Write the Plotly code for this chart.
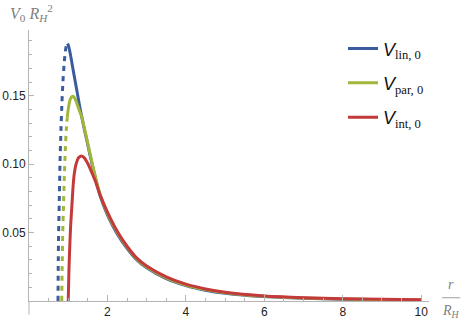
import plotly.graph_objects as go

# values (x = r/R_H, y = V0 R_H^2)
lin_dash_x = [0.74, 0.745, 0.755, 0.77, 0.79, 0.815, 0.84, 0.865, 0.895, 0.925, 0.955, 0.98]
lin_dash_y = [0.0, 0.025, 0.05, 0.07, 0.10, 0.125, 0.145, 0.160, 0.173, 0.182, 0.187, 0.188]
lin_x = [0.98, 1.0, 1.05, 1.1, 1.15, 1.2, 1.25, 1.3, 1.35, 1.4, 1.5, 1.6, 1.7, 1.8, 2.0,
         2.25, 2.5, 2.75, 3.0, 3.5, 4.0, 4.5, 5.0, 6.0, 7.0, 8.0, 9.0, 10.0]
lin_y = [0.188, 0.187, 0.181, 0.173, 0.165, 0.157, 0.149, 0.141, 0.134, 0.127, 0.114, 0.101,
         0.089, 0.078, 0.063, 0.049, 0.0385, 0.030, 0.0242, 0.0163, 0.0112, 0.0079, 0.0057,
         0.0032, 0.0020, 0.0013, 0.0009, 0.0006]

par_dash_x = [0.835, 0.845, 0.86, 0.88, 0.90, 0.925, 0.95, 0.975]
par_dash_y = [0.0, 0.025, 0.05, 0.07, 0.09, 0.11, 0.125, 0.134]
par_x = [0.975, 1.0, 1.03, 1.06, 1.1, 1.15, 1.2, 1.25, 1.3, 1.35, 1.4, 1.5, 1.6, 1.7, 1.8, 2.0,
         2.25, 2.5, 2.75, 3.0, 3.5, 4.0, 4.5, 5.0, 6.0, 7.0, 8.0, 9.0, 10.0]
par_y = [0.134, 0.140, 0.145, 0.148, 0.1495, 0.149, 0.146, 0.142, 0.138, 0.134, 0.128, 0.115,
         0.102, 0.090, 0.079, 0.064, 0.050, 0.0393, 0.0306, 0.0249, 0.0169, 0.0117, 0.0083,
         0.0060, 0.0034, 0.0022, 0.0015, 0.0010, 0.0007]

int_x = [1.0, 1.01, 1.02, 1.04, 1.06, 1.09, 1.12, 1.15, 1.2, 1.26, 1.33, 1.4, 1.5, 1.57, 1.7,
         1.82, 2.0, 2.25, 2.5, 2.75, 3.0, 3.5, 4.0, 4.5, 5.0, 6.0, 7.0, 8.0, 9.0, 10.0]
int_y = [0.0, 0.012, 0.024, 0.040, 0.054, 0.068, 0.082, 0.092, 0.100, 0.1045, 0.106, 0.105,
         0.1005, 0.096, 0.087, 0.077, 0.065, 0.051, 0.040, 0.0313, 0.0256, 0.0176, 0.0123,
         0.0088, 0.0064, 0.0037, 0.0024, 0.0017, 0.0012, 0.0009]

x_ticks = [2, 4, 6, 8, 10]
y_ticks = [0.05, 0.10, 0.15]
y_tick_text = ["0.05", "0.10", "0.15"]

BLUE = "#3b5b9f"
GREEN = "#a2b63a"
RED = "#c43a3a"
GREY = "#b4b4b4"
SERIF = "Liberation Serif"


def lname(sub):
    return ('<i>V</i><span style="font-family:Liberation Serif"><sub>' + sub + "</sub></span>")


fig = go.Figure()

fig.add_trace(go.Scatter(x=lin_dash_x, y=lin_dash_y, mode="lines", showlegend=False,
                         line=dict(color=BLUE, width=3, dash="5px,5px", shape="spline", smoothing=0.6)))
fig.add_trace(go.Scatter(x=par_dash_x, y=par_dash_y, mode="lines", showlegend=False,
                         line=dict(color=GREEN, width=3, dash="5px,5px", shape="spline", smoothing=0.6)))
fig.add_trace(go.Scatter(x=lin_x, y=lin_y, mode="lines", name=lname("lin, 0"), legendgroup="a",
                         line=dict(color=BLUE, width=3, shape="spline", smoothing=0.6)))
fig.add_trace(go.Scatter(x=par_x, y=par_y, mode="lines", name=lname("par, 0"), legendgroup="b",
                         line=dict(color=GREEN, width=3, shape="spline", smoothing=0.6)))
fig.add_trace(go.Scatter(x=int_x, y=int_y, mode="lines", name=lname("int, 0"), legendgroup="c",
                         line=dict(color=RED, width=3, shape="spline", smoothing=0.6)))

# y axis runs a little below the x axis, as in the original
fig.add_shape(type="line", xref="paper", yref="paper", x0=0, x1=0, y0=-0.05, y1=0,
              line=dict(color=GREY, width=1))

# axis labels
fig.add_annotation(xref="paper", yref="paper", x=-0.052, y=1.063, xanchor="left", yanchor="middle",
                   showarrow=False, font=dict(family=SERIF, size=16, color="#808080"),
                   text="<i>V</i><sub>0</sub> <i>R</i><sub><i>H</i></sub><sup>2</sup>")
fig.add_annotation(xref="paper", yref="paper", x=1.055, y=0.06, xanchor="center", yanchor="middle",
                   showarrow=False, font=dict(family=SERIF, size=14, color="#808080"), text="<i>r</i>")
fig.add_annotation(xref="paper", yref="paper", x=1.055, y=-0.04, xanchor="center", yanchor="middle",
                   showarrow=False, font=dict(family=SERIF, size=14, color="#808080"),
                   text="<i>R</i><sub><i>H</i></sub>")
fig.add_shape(type="line", xref="paper", yref="paper", x0=1.032, x1=1.078, y0=0.012, y1=0.012,
              line=dict(color="#a0a0a0", width=1))

fig.update_xaxes(range=[0, 10.2], tickvals=x_ticks, showgrid=False, zeroline=False,
                 showline=True, linecolor=GREY, linewidth=1, automargin=False,
                 ticks="inside", ticklen=6, tickcolor=GREY,
                 minor=dict(dtick=0.5, tick0=0, ticks="inside", ticklen=3, tickcolor=GREY),
                 tickfont=dict(family="Liberation Sans", size=12, color="#222"))
fig.update_yaxes(range=[0, 0.198], tickvals=y_ticks, ticktext=y_tick_text, showgrid=False,
                 zeroline=False, showline=True, linecolor=GREY, linewidth=1, automargin=False,
                 ticks="inside", ticklen=5, tickcolor=GREY,
                 minor=dict(dtick=0.01, tick0=0, ticks="inside", ticklen=3, tickcolor=GREY),
                 tickfont=dict(family="Liberation Sans", size=12, color="#222"))

fig.update_layout(
    width=464, height=324,
    margin=dict(l=28.5, r=35, t=30, b=23, autoexpand=False),
    plot_bgcolor="white", paper_bgcolor="white",
    legend=dict(x=0.785, y=0.999, xanchor="left", yanchor="top", traceorder="grouped",
                tracegroupgap=8, bgcolor="rgba(0,0,0,0)",
                font=dict(family="Liberation Sans", size=18, color="#111")),
)

# page body has an 8px default margin; drop it so the figure sits at the corner
fig.write_html("out.html", config={"displayModeBar": False},
               post_script="document.body.style.margin='0px';")
